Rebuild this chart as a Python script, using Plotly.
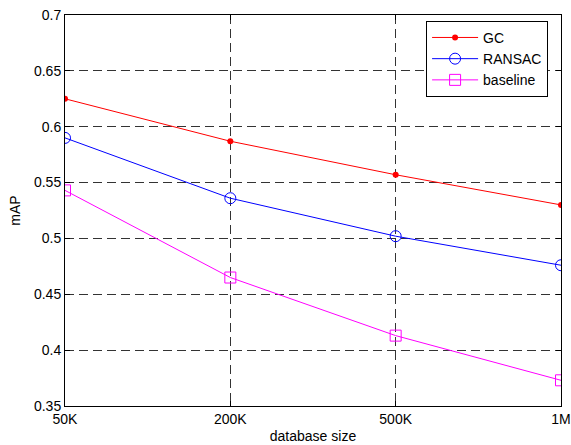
import plotly.graph_objects as go

categories = ["50K", "200K", "500K", "1M"]
gc = [0.625, 0.587, 0.557, 0.530]
ransac = [0.590, 0.536, 0.502, 0.476]
baseline = [0.543, 0.465, 0.413, 0.373]
y_ticks = [0.35, 0.4, 0.45, 0.5, 0.55, 0.6, 0.65, 0.7]
y_tick_labels = ["0.35", "0.4", "0.45", "0.5", "0.55", "0.6", "0.65", "0.7"]

FONT = "Liberation Sans, Arial"
fig = go.Figure()
fig.add_trace(go.Scatter(x=categories, y=gc, name="GC", mode="lines+markers",
                         line=dict(color="#ff0000", width=1),
                         marker=dict(symbol="circle", size=6, color="#ff0000")))
fig.add_trace(go.Scatter(x=categories, y=ransac, name="RANSAC", mode="lines+markers",
                         line=dict(color="#0000ff", width=1),
                         marker=dict(symbol="circle-open", size=11, color="#0000ff", line=dict(width=1))))
fig.add_trace(go.Scatter(x=categories, y=baseline, name="baseline", mode="lines+markers",
                         line=dict(color="#ff00ff", width=1),
                         marker=dict(symbol="square-open", size=11, color="#ff00ff", line=dict(width=1))))

axis_common = dict(showline=True, linecolor="black", linewidth=1, mirror="ticks",
                   ticks="inside", ticklen=5, tickcolor="black", automargin=False,
                   showgrid=True, gridcolor="#333333", griddash="9px,5px", gridwidth=1,
                   zeroline=False, tickfont=dict(family=FONT, size=14, color="black"))

fig.update_xaxes(type="category", range=[0, 3], title=dict(text="database size", standoff=5,
                 font=dict(family=FONT, size=14, color="black")), **axis_common)
fig.update_yaxes(range=[0.35, 0.7], tickvals=y_ticks, ticktext=y_tick_labels,
                 title=dict(text="mAP", standoff=10, font=dict(family=FONT, size=14, color="black")),
                 **axis_common)

fig.update_layout(width=571, height=445, margin=dict(l=65, r=10, t=15, b=39),
                  paper_bgcolor="white", plot_bgcolor="white",
                  font=dict(family=FONT, size=14, color="black"),
                  legend=dict(x=0.728, y=0.985, xanchor="left", yanchor="top",
                              bgcolor="white", bordercolor="black", borderwidth=1,
                              font=dict(family=FONT, size=14, color="black"),
                              tracegroupgap=0, itemwidth=46))

fig.write_html("out.html", config={"displayModeBar": False},
               post_script="document.body.style.margin='0';document.body.style.overflow='hidden';")
